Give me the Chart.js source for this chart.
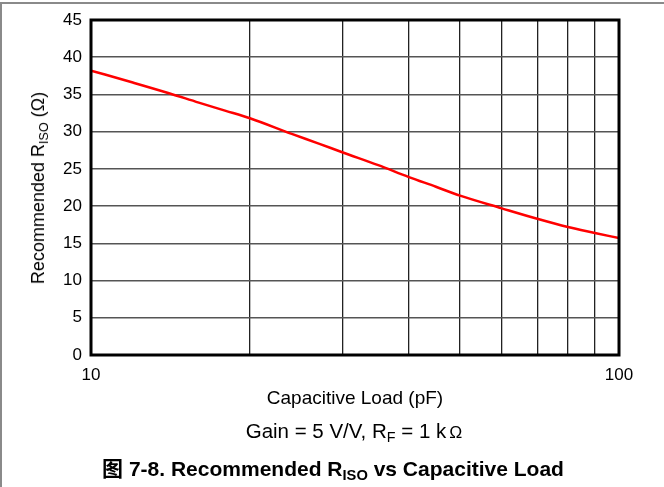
<!DOCTYPE html>
<html>
<head>
<meta charset="utf-8">
<script src="https://cdn.jsdelivr.net/npm/chart.js@4"></script>
<style>
  html, body { margin: 0; padding: 0; background: #fff; }
  body { width: 664px; height: 487px; position: relative; overflow: hidden;
         font-family: "Liberation Sans", Arial, "Noto Sans CJK SC", sans-serif; color: #000; }
  #frame { position: absolute; left: 0; top: 2px; width: 800px; height: 600px;
           border-top: 2px solid #8a8a8a; border-left: 2px solid #8a8a8a; }
  #chart { position: absolute; left: 0; top: 0; }
  .lbl { position: absolute; white-space: nowrap; line-height: 1; }
  .lbl sub { font-size: 70%; vertical-align: -0.3em; line-height: 0; }
  #ytitle { left: 38px; top: 188px; font-size: 18px; transform: translate(-50%, -50%) rotate(-90deg); }
  #xtitle { left: 355px; top: 388px; font-size: 19px; transform: translateX(-50%); }
  #gain { left: 354px; top: 421px; font-size: 20.5px; transform: translateX(-50%); }
  #caption { left: 333px; top: 458px; font-size: 21px; font-weight: bold; transform: translateX(-50%); }
</style>
</head>
<body>
<div id="frame"></div>
<canvas id="chart" width="664" height="487"></canvas>
<div class="lbl" id="ytitle">Recommended R<sub>ISO</sub> (Ω)</div>
<div class="lbl" id="xtitle">Capacitive Load (pF)</div>
<div class="lbl" id="gain">Gain = 5 V/V, R<sub>F</sub> = 1 k<span style="font-size:85%;margin-left:3px">Ω</span></div>
<div class="lbl" id="caption">图 7-8. Recommended R<sub>ISO</sub> vs Capacitive Load</div>
<script>
// capacitive load (pF) and recommended R_ISO (ohm)
const capLoad = [10, 12, 14, 16, 18, 20, 24, 27, 30, 35, 40, 45, 50, 60, 70, 80, 90, 100];
const rIso = [38.2, 36.6, 35.2, 33.9, 32.8, 31.8, 29.7, 28.4, 27.2, 25.5, 23.9, 22.6, 21.4, 19.7, 18.3, 17.2, 16.4, 15.7];

const xGridTicks = [10, 20, 30, 40, 50, 60, 70, 80, 90, 100];
const xLabeled = [10, 100];   // only decades get a label
const yMin = 0, yMax = 45, yStep = 5;

const points = capLoad.map((c, i) => ({ x: c, y: rIso[i] }));

// thick black box around the plot
const framePlugin = {
    id: 'frame',
    afterDatasetsDraw(chart) {
        const a = chart.chartArea, ctx = chart.ctx;
        ctx.save();
        ctx.strokeStyle = '#000';
        ctx.lineWidth = 3;
        ctx.strokeRect(a.left, a.top, a.right - a.left, a.bottom - a.top);
        ctx.restore();
    }
};

new Chart(document.getElementById('chart').getContext('2d'), {
    type: 'line',
    data: {
        datasets: [{
            data: points,
            borderColor: '#ff0000',
            borderWidth: 2.5,
            pointRadius: 0,
            cubicInterpolationMode: 'monotone',
            fill: false
        }]
    },
    options: {
        responsive: false,
        animation: false,
        layout: { padding: { left: 0, top: 20, right: 45, bottom: 0 } },
        plugins: { legend: { display: false }, tooltip: { enabled: false } },
        scales: {
            x: {
                type: 'logarithmic',
                min: 10, max: 100,
                afterBuildTicks: (s) => { s.ticks = xGridTicks.map(v => ({ value: v })); },
                afterFit: (s) => { s.height = 487 - 355; },
                grid: { color: '#222', lineWidth: 1.3, drawTicks: false },
                border: { display: false },
                ticks: {
                    padding: 10,
                    autoSkip: false,
                    maxRotation: 0,
                    color: '#000',
                    font: { family: '"Liberation Sans", Arial', size: 17 },
                    callback: (v) => xLabeled.includes(v) ? String(v) : ''
                }
            },
            y: {
                min: yMin, max: yMax,
                afterFit: (s) => { s.width = 91; },
                grid: { color: '#555', lineWidth: 1.5, drawTicks: false },
                border: { display: false },
                ticks: {
                    stepSize: yStep,
                    padding: 9,
                    color: '#000',
                    font: { family: '"Liberation Sans", Arial', size: 17 }
                }
            }
        }
    },
    plugins: [framePlugin]
});
</script>
</body>
</html>
